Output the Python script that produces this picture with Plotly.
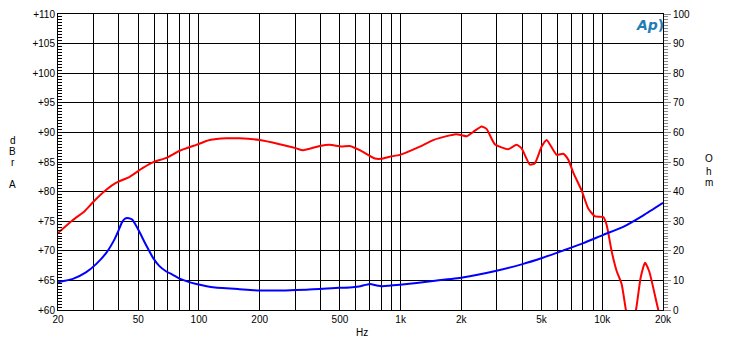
import plotly.graph_objects as go

# Frequency response (dBrA, left axis)
freq_red = [20, 23.7, 27.1, 29.8, 34.7, 38.9, 45.3, 52.7, 59.1, 68.9, 80.2, 97, 113, 137, 159,
            200, 251, 304, 328, 397, 445, 508, 560, 627, 745, 803, 883, 991, 1245, 1449,
            1755, 1894, 2124, 2293, 2520, 2667, 2932, 3413, 3758, 3981, 4375, 4634, 5004,
            5300, 5936, 6400, 6779, 7180, 7906, 8530, 9209, 10120, 10520, 11130, 11780,
            12470, 13090, 13800, 14690, 15500, 16290, 17100, 18970, 20000]
db_red = [73.0, 75.2, 76.7, 78.2, 80.3, 81.5, 82.5, 84.0, 84.95, 85.7, 86.9, 87.9, 88.7, 89.0, 89.0,
          88.7, 88.0, 87.3, 87.0, 87.7, 87.9, 87.6, 87.7, 87.0, 85.6, 85.55, 85.9, 86.2, 87.6, 88.7,
          89.5, 89.7, 89.35, 90.1, 91.0, 90.6, 88.0, 87.15, 87.9, 87.3, 84.55, 84.8, 87.6,
          88.7, 86.2, 86.4, 85.4, 83.2, 80.15, 77.1, 75.8, 75.7, 74.3, 69.9, 66.6,
          64.4, 60.0, 56.0, 60.0, 65.5, 68.0, 66.5, 60.0, 57.5]

# Impedance (Ohm, right axis)
freq_blue = [20, 23.7, 27.5, 30.9, 34.7, 38.0, 40.0, 41.5, 43.0, 45.0, 46.8, 48.5, 50.6, 54.5,
             59.1, 63.5, 68.9, 74.2, 80.2, 88, 97, 117, 159, 200, 341, 496, 560, 622, 704, 760,
             811, 991, 1449, 2030, 2954, 4020, 5067, 6400, 8060, 10120, 12700, 15990, 20000]
ohm_blue = [9.4, 10.5, 12.7, 15.5, 19.3, 23.7, 27.0, 29.6, 30.9, 31.0, 30.5, 28.8, 26.5, 22.1,
            17.7, 14.9, 13.0, 11.9, 10.6, 9.6, 8.8, 7.7, 7.05, 6.6, 6.85, 7.5, 7.6, 7.95, 8.8, 8.3,
            8.05, 8.5, 9.8, 11.0, 13.2, 15.5, 17.65, 20.1, 22.6, 25.4, 28.1, 32.0, 36.2]

grid_freqs = [20, 30, 40, 50, 60, 70, 80, 90, 100, 200, 300, 400, 500, 600, 700, 800, 900,
              1000, 2000, 3000, 4000, 5000, 6000, 7000, 8000, 9000, 10000, 20000]
label_map = {20: "20", 50: "50", 100: "100", 200: "200", 500: "500", 1000: "1k",
             2000: "2k", 5000: "5k", 10000: "10k", 20000: "20k"}
grid_text = [label_map.get(f, "") for f in grid_freqs]

FONT = "Liberation Sans, Arial, sans-serif"

fig = go.Figure()
fig.add_trace(go.Scatter(x=freq_blue, y=ohm_blue, yaxis="y2", mode="lines",
                         line=dict(color="#0000ff", width=2, shape="spline", smoothing=0.5),
                         hoverinfo="skip", showlegend=False))
fig.add_trace(go.Scatter(x=freq_red, y=db_red, mode="lines",
                         line=dict(color="#ff0000", width=2, shape="spline", smoothing=0.5),
                         hoverinfo="skip", showlegend=False))

fig.update_layout(
    width=730, height=343,
    margin=dict(l=58, r=67, t=8, b=33),
    paper_bgcolor="white", plot_bgcolor="white",
    font=dict(family=FONT, size=10, color="black"),
    showlegend=False,
    xaxis=dict(type="log", range=[1.30103, 4.30103], tickvals=grid_freqs, ticktext=grid_text,
               showgrid=True, gridcolor="black", gridwidth=1, ticks="", showline=True,
               linecolor="black", linewidth=1, mirror=True, zeroline=False, tickangle=0),
    yaxis=dict(range=[60, 110], dtick=5, tickprefix="+", showgrid=True, gridcolor="black",
               gridwidth=1, ticks="", showline=True, linecolor="black", linewidth=1,
               mirror=True, zeroline=False,
               minor=dict(dtick=0.5, ticks="inside", ticklen=4, tickcolor="black", showgrid=False)),
    yaxis2=dict(range=[0, 100], dtick=10, overlaying="y", side="right", showgrid=False,
                ticks="outside", ticklen=7, tickcolor="#888888", zeroline=False,
                showline=False,
                minor=dict(dtick=1, ticks="outside", ticklen=4, tickcolor="#888888", showgrid=False)),
)

annotations = []
for letter, yv in [("d", 88.64), ("B", 86.82), ("r", 84.99), ("A", 81.19)]:
    annotations.append(dict(text=letter, x=-0.0744, xref="paper", y=yv, yref="y",
                            xanchor="center", yanchor="middle",
                            showarrow=False, font=dict(size=10)))
for letter, yv in [("O", 51.2), ("h", 46.9), ("m", 43.2)]:
    annotations.append(dict(text=letter, x=1.076, xref="paper", y=yv, yref="y2",
                            xanchor="center", yanchor="middle",
                            showarrow=False, font=dict(size=10)))
annotations.append(dict(text="Hz", x=0.5025, xref="paper", y=-0.076, yref="paper",
                        xanchor="center", yanchor="middle",
                        showarrow=False, font=dict(size=10)))
annotations.append(dict(text="<b><i>Ap</i>)</b>", x=0.9785, xref="paper", y=0.963, yref="paper",
                        xanchor="center", yanchor="middle",
                        showarrow=False, font=dict(size=14, color="#1f7db5", family="DejaVu Sans")))
fig.update_layout(annotations=annotations)

fig.write_html("out.html", config={"displayModeBar": False},
               post_script="document.body.style.margin='0';document.body.style.overflow='hidden';")
